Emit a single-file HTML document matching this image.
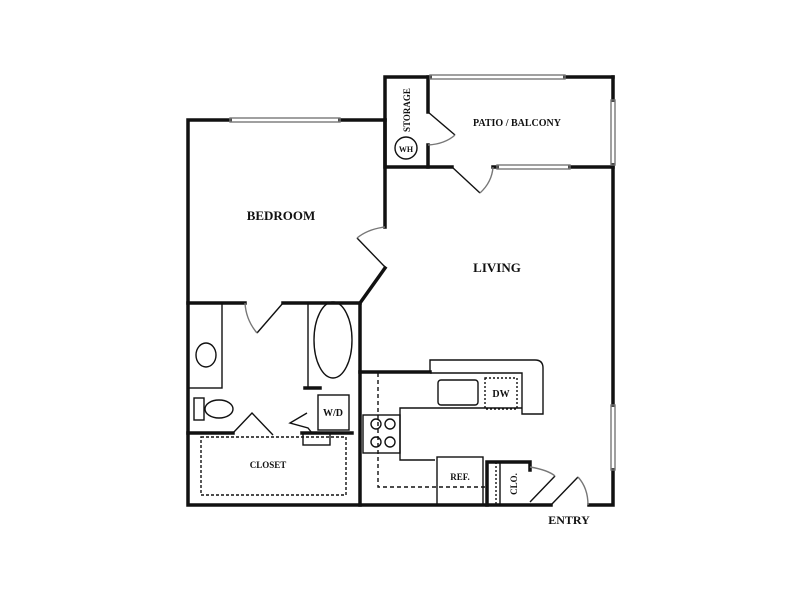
<!DOCTYPE html>
<html><head><style>body{margin:0;background:#fff}svg{display:block}text{font-family:"Liberation Serif",serif;font-weight:bold;fill:#111}</style></head>
<body>
<svg width="800" height="600" viewBox="0 0 800 600" xmlns="http://www.w3.org/2000/svg">
<g fill="none" stroke="#111" stroke-width="3.5" stroke-linecap="square">
<!-- outer walls -->
<polyline points="230,120 188,120 188,505 551,505"/>
<line x1="340" y1="120" x2="385" y2="120"/>
<polyline points="385,120 385,227"/>
<polyline points="385,268 360,303 360,505"/>
<polyline points="430,77 385,77 385,167 452,167"/>
<line x1="565" y1="77" x2="613" y2="77"/>
<polyline points="613,77 613,100"/>
<polyline points="613,165 613,405"/>
<polyline points="613,470 613,505 589,505"/>
<line x1="570" y1="167" x2="613" y2="167"/>
<line x1="493" y1="167" x2="497" y2="167"/>
<line x1="428" y1="77" x2="428" y2="112"/>
<line x1="428" y1="145" x2="428" y2="167"/>
<!-- bath walls -->
<line x1="188" y1="303" x2="245" y2="303"/>
<line x1="283" y1="303" x2="360" y2="303"/>
<line x1="188" y1="433" x2="233" y2="433"/>
<line x1="302" y1="433" x2="352" y2="433"/>
<line x1="305" y1="388" x2="320" y2="388"/>
<line x1="360" y1="372" x2="430" y2="372"/>
<polyline points="487,505 487,462 530,462 530,470"/>
</g>
<g fill="none" stroke="#111" stroke-width="1.4">
<!-- windows -->
<rect x="230" y="118" width="110" height="4" stroke="#777"/>
<rect x="430" y="75" width="135" height="4" stroke="#777"/>
<rect x="497" y="165" width="73" height="4" stroke="#777"/>
<rect x="611" y="100" width="4" height="65" stroke="#777"/>
<rect x="611" y="405" width="4" height="65" stroke="#777"/>
<!-- doors -->
<line x1="357" y1="238" x2="385" y2="267"/><path d="M385,227 Q368,229 357,238" stroke="#777"/>
<line x1="428" y1="112" x2="455" y2="135"/><path d="M455,135 Q445,144 428,145" stroke="#777"/>
<line x1="452" y1="167" x2="480" y2="193"/><path d="M480,193 Q492,182 493,167" stroke="#777"/>
<line x1="283" y1="303" x2="257" y2="333"/><path d="M257,333 Q246,320 245,303" stroke="#777"/>
<polyline points="233,433 252,413 273,435"/>
<polyline points="307,413 290,423 308,428 312,433"/>
<line x1="530" y1="502" x2="555" y2="476"/><path d="M530,467 Q548,470 555,476" stroke="#777"/>
<line x1="551" y1="505" x2="578" y2="477"/><path d="M578,477 Q588,488 588,505" stroke="#777"/>
<!-- bath fixtures -->
<rect x="188" y="303" width="34" height="85"/>
<ellipse cx="206" cy="355" rx="10" ry="12"/>
<line x1="308" y1="303" x2="308" y2="388"/>
<ellipse cx="333" cy="340" rx="19" ry="38"/>
<rect x="194" y="398" width="10" height="22"/>
<ellipse cx="219" cy="409" rx="14" ry="9"/>
<rect x="318" y="395" width="31" height="35"/>
<rect x="303" y="433" width="27" height="12"/>
<rect x="201" y="437" width="145" height="58" stroke-dasharray="3,2"/>
<!-- kitchen -->
<path d="M430,372 V360 H535 Q543,360 543,368 V414 H522 V373 H430"/>
<polyline points="522,408 400,408 400,460 435,460"/>
<rect x="438" y="380" width="40" height="25" rx="3"/>
<rect x="485" y="378" width="32" height="31" stroke-dasharray="2,2"/>
<rect x="363" y="415" width="37" height="38"/>
<circle cx="376" cy="424" r="5"/><circle cx="390" cy="424" r="5"/>
<circle cx="376" cy="442" r="5"/><circle cx="390" cy="442" r="5"/>
<rect x="437" y="457" width="46" height="48"/>
<polyline points="378,373 378,487 485,487" stroke-dasharray="4,3"/>
<line x1="500" y1="462" x2="500" y2="505"/>
<line x1="496" y1="462" x2="496" y2="505" stroke-dasharray="2,2"/>
<circle cx="406" cy="148" r="11"/>
</g>
<text x="281" y="220" font-size="13" text-anchor="middle">BEDROOM</text>
<text x="497" y="272" font-size="13" text-anchor="middle">LIVING</text>
<text x="517" y="126" font-size="10" text-anchor="middle">PATIO / BALCONY</text>
<text x="410" y="110" font-size="9" text-anchor="middle" transform="rotate(-90 410 110)">STORAGE</text>
<text x="406" y="152" font-size="8" text-anchor="middle">WH</text>
<text x="333" y="416" font-size="10" text-anchor="middle">W/D</text>
<text x="501" y="397" font-size="10" text-anchor="middle">DW</text>
<text x="460" y="480" font-size="9" text-anchor="middle">REF.</text>
<text x="517" y="484" font-size="9" text-anchor="middle" transform="rotate(-90 517 484)">CLO.</text>
<text x="268" y="468" font-size="9" text-anchor="middle">CLOSET</text>
<text x="569" y="524" font-size="12" text-anchor="middle">ENTRY</text>
</svg>
</body></html>
